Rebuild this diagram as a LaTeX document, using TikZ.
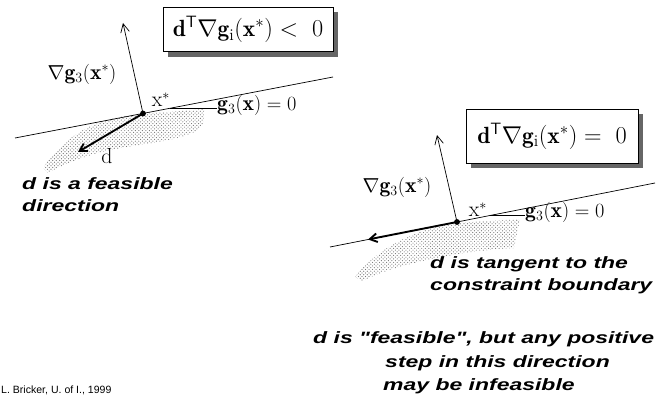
\documentclass[tikz,border=0pt]{standalone}
\usepackage{amsmath,amssymb}
\usepackage{fontspec}
\newfontfamily\capfont[FakeStretch=1.4]{Liberation Sans}
\newfontfamily\creditfont{Liberation Sans}
\usepackage{tikz}
\usetikzlibrary{arrows.meta,positioning,patterns,shadows,calc}

\begin{document}
\begin{tikzpicture}[x=0.03cm,y=-0.03cm,
        lbl/.style={inner sep=0pt,font=\fontsize{18.5}{21}\selectfont},
        captxt/.style={inner sep=0pt,align=left,
                    font=\capfont\bfseries\itshape\fontsize{14}{19}\selectfont},
        formbox/.style={draw,fill=white,semithick,inner sep=0pt,
                  font=\fontsize{20}{22}\selectfont,
                  drop shadow={shadow xshift=0.15cm,shadow yshift=-0.15cm,
                               fill=black!60,opacity=1}},
        pt/.style={circle,fill=black,inner sep=0pt,minimum size=5pt},
        feas/.style={pattern=crosshatch dots,pattern color=black!55},
        bound/.style={semithick},
        grad/.style={-{Straight Barb[length=2.6mm,width=2.6mm]},semithick},
        dvec/.style={-{Straight Barb[length=2.2mm,width=2.6mm]},line width=1.6pt}
      ]
        \clip (0,0) rectangle (666,396);

        % feasible direction
        \fill[feas] (43,168) .. controls (70,128) and (105,117) .. (143,114)
              -- (205,109) -- (203,124) .. controls (195,140) and (150,142) .. (110,150)
              .. controls (80,157) and (60,166) .. (48,173) -- cycle;
        \coordinate (lLa) at (15,138);
        \coordinate (lLb) at (333,77);
        \draw[bound] (lLa)--(lLb);
        \node[pt] (xsL) at (143,113.5) {};
        \coordinate (gtipL) at (123,23);
        \coordinate (dtipL) at (78,152);
        \coordinate (leadL) at (170,108.3);
        \draw[grad] (xsL.center)--(gtipL);
        \draw[dvec] (xsL.center)--(dtipL);
        \node[lbl] (gradL) at (82,74) {$\nabla\mathbf{g}_3(\mathbf{x}^*)$};
        \node[lbl] (xlabL) at (161,100) {$\mathrm{x}^*$};
        \node[lbl,anchor=west] (gcL) at (217,105) {$\mathbf{g}_3(\mathbf{x}) = 0$};
        \draw[bound] (leadL)--(leadL -| gcL.west);
        \node[lbl] (dlabL) at (107,156) {$\mathrm{d}$};
        \node[captxt,anchor=north west] (capL) at (22,177) {d is a feasible\\direction};
        \node[formbox,minimum width=5.1cm,minimum height=1.33cm] (boxL) at (248,29.5)
              {$\mathbf{d}^{\mathsf{T}}\nabla\mathbf{g}_{\mathrm{i}}(\mathbf{x}^*) <\ 0$};

        % tangent direction
        \fill[feas] (355,277) .. controls (380,245) and (420,228) .. (457,223)
              -- (520,219) -- (514,248) .. controls (470,250) and (400,262) .. (362,281) -- cycle;
        \coordinate (lRa) at (330,247);
        \coordinate (lRb) at (655,183);
        \draw[bound] (lRa)--(lRb);
        \node[pt] (xsR) at (457,222) {};
        \coordinate (gtipR) at (437,135);
        \coordinate (dtipR) at (368,239.5);
        \coordinate (leadR) at (490,215.5);
        \draw[grad] (xsR.center)--(gtipR);
        \draw[dvec] (xsR.center)--(dtipR);
        \node[lbl] (gradR) at (397,187) {$\nabla\mathbf{g}_3(\mathbf{x}^*)$};
        \node[lbl] (xlabR) at (478,210) {$\mathrm{x}^*$};
        \node[lbl,anchor=west] (gcR) at (525,212) {$\mathbf{g}_3(\mathbf{x}) = 0$};
        \draw[bound] (leadR)--(leadR -| gcR.west);
        \node[captxt,anchor=north west] (capR) at (430,256) {d is tangent to the\\constraint boundary};
        \node[formbox,minimum width=5.16cm,minimum height=1.62cm] (boxR) at (552,136)
              {$\mathbf{d}^{\mathsf{T}}\nabla\mathbf{g}_{\mathrm{i}}(\mathbf{x}^*) =\ 0$};

        \node[captxt,anchor=base west] (noteA) at (313,343) {d is "feasible", but any positive};
        \node[captxt,anchor=base west] (noteB) at (385,367) {step in this direction};
        \node[captxt,anchor=base west] (noteC) at (383,390) {may be infeasible};

        \node[anchor=base west,inner sep=0pt,font=\creditfont\fontsize{9}{11}\selectfont]
              (credit) at (1,393) {L. Bricker, U. of I., 1999};
\end{tikzpicture}
\end{document}
